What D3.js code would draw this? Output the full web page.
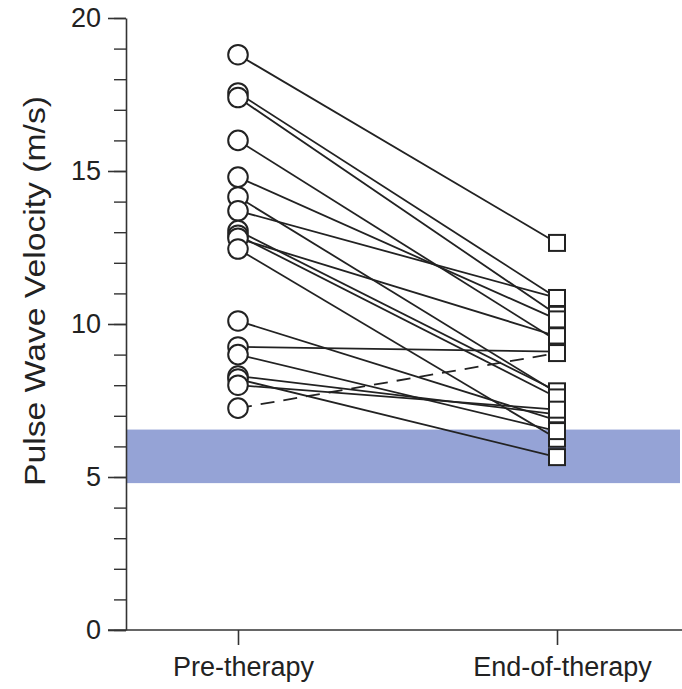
<!DOCTYPE html>
<html>
<head>
<meta charset="utf-8">
<script src="https://cdn.jsdelivr.net/npm/d3@7"></script>
<style>
  body { margin: 0; background: #fff; }
  text { font-family: "Liberation Sans", Arial, sans-serif; fill: #222; }
</style>
</head>
<body>
<script>
// categories and per-subject pulse wave velocities (m/s)
var groups = ["Pre-therapy", "End-of-therapy"];
var preValues = [18.8, 17.55, 17.4, 16.0, 14.8, 14.15, 13.7, 13.05, 12.9, 12.8, 12.45, 10.1, 9.25, 9.0, 8.3, 8.2, 8.0, 7.25];
var endValues = [12.65, 10.85, 10.3, 9.45, 10.15, 7.75, 10.85, 7.8, 7.6, 9.6, 6.25, 6.85, 9.1, 6.5, 7.05, 5.65, 7.2, 9.05];
var dashed = [false, false, false, false, false, false, false, false, false, false, false, false, false, false, false, false, false, true];
// normal range band
var bandRange = [4.8, 6.55];
var majorTicks = [0, 5, 10, 15, 20];
var minorTicks = d3.range(0, 21, 1);

var width = 682, height = 689;

var svg = d3.select("body").append("svg")
    .attr("width", width)
    .attr("height", height);

var y = d3.scaleLinear().domain([0, 20]).range([630, 18]);
var x = d3.scalePoint().domain(groups).range([238, 557]);
var axisX = 126;

//reference band
svg.append("rect")
    .attr("x", axisX)
    .attr("width", 680 - axisX)
    .attr("y", y(bandRange[1]))
    .attr("height", y(bandRange[0]) - y(bandRange[1]))
    .attr("fill", "#95a3d6");

//minor ticks first, then the major axis over them
svg.append("g")
    .attr("transform", "translate(" + axisX + ",0)")
    .call(d3.axisLeft(y).tickValues(minorTicks).tickSize(12).tickFormat(""))
    .call(function(g) { g.select(".domain").remove(); })
    .selectAll("line").attr("stroke", "#333").attr("stroke-width", 1.4);

var yAxis = svg.append("g")
    .attr("transform", "translate(" + axisX + ",0)")
    .call(d3.axisLeft(y).tickValues(majorTicks).tickSize(18).tickPadding(7).tickSizeOuter(0));
yAxis.select(".domain").attr("stroke", "#333").attr("stroke-width", 1.6);
yAxis.selectAll("line").attr("stroke", "#333").attr("stroke-width", 1.6);
yAxis.selectAll("text").style("font-size", "27px").attr("fill", "#222");

var xAxis = svg.append("g")
    .attr("transform", "translate(0," + y(0) + ")")
    .call(d3.axisBottom(x).tickSize(15).tickPadding(12).tickSizeOuter(0));
xAxis.select(".domain").attr("d", "M108,0H682").attr("stroke", "#333").attr("stroke-width", 1.6);
xAxis.selectAll("line").attr("stroke", "#333").attr("stroke-width", 1.6);
xAxis.selectAll("text").style("font-size", "27px").attr("fill", "#222")
    .attr("dx", 5);

svg.append("text")
    .attr("transform", "translate(45," + 291 + ") rotate(-90)")
    .attr("text-anchor", "middle")
    .style("font-size", "30px")
    .attr("textLength", 390)
    .attr("lengthAdjust", "spacingAndGlyphs")
    .text("Pulse Wave Velocity (m/s)");

var subjects = preValues.map(function(v, i) {
    return { pre: v, end: endValues[i], dashed: dashed[i] };
});

//connecting lines
svg.append("g")
    .selectAll("line")
    .data(subjects)
    .enter().append("line")
    .attr("x1", x(groups[0]))
    .attr("x2", x(groups[1]))
    .attr("y1", function(d) { return y(d.pre); })
    .attr("y2", function(d) { return y(d.end); })
    .attr("stroke", "#222")
    .attr("stroke-width", 1.8)
    .attr("stroke-dasharray", function(d) { return d.dashed ? "14,9" : null; });

//end-of-therapy squares
var s = 16;
svg.append("g")
    .selectAll("rect")
    .data(subjects)
    .enter().append("rect")
    .attr("x", x(groups[1]) - s / 2)
    .attr("y", function(d) { return y(d.end) - s / 2; })
    .attr("width", s)
    .attr("height", s)
    .attr("fill", "#fff")
    .attr("stroke", "#222")
    .attr("stroke-width", 2);

//pre-therapy circles
svg.append("g")
    .selectAll("circle")
    .data(subjects)
    .enter().append("circle")
    .attr("cx", x(groups[0]))
    .attr("cy", function(d) { return y(d.pre); })
    .attr("r", 9.8)
    .attr("fill", "#fff")
    .attr("stroke", "#222")
    .attr("stroke-width", 2);
</script>
</body>
</html>
